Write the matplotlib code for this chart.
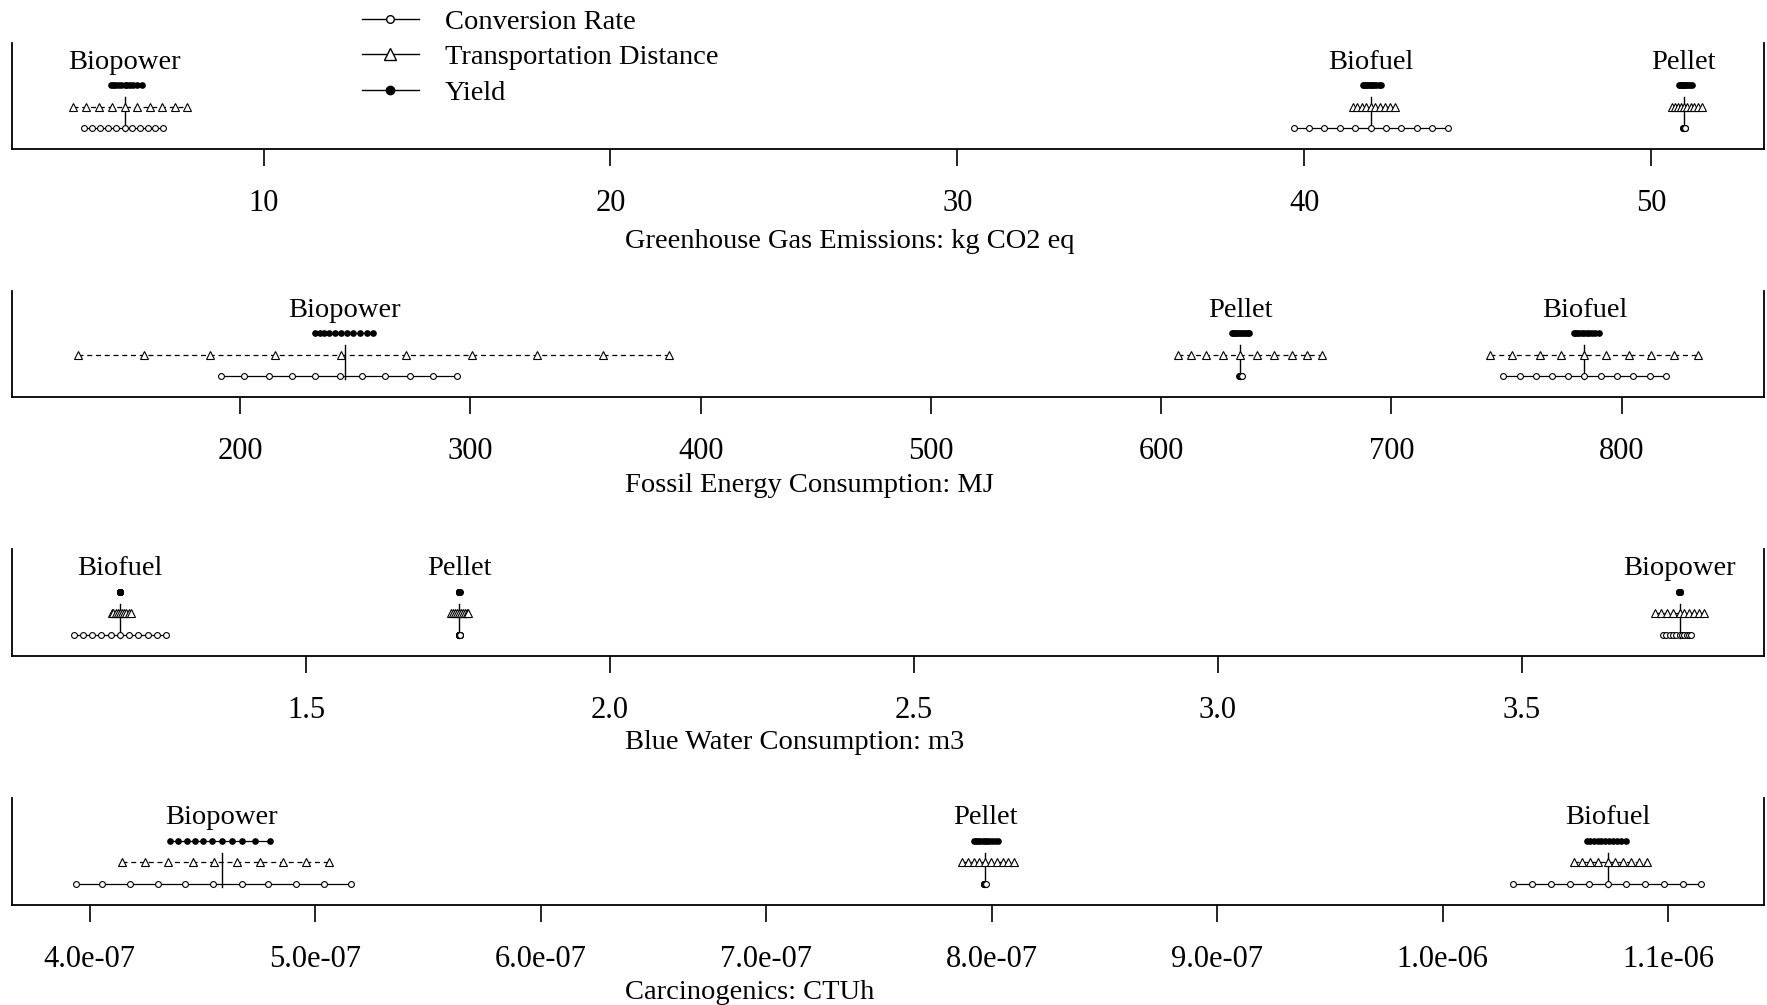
import matplotlib
matplotlib.use("Agg")
import matplotlib.pyplot as plt
from matplotlib.lines import Line2D

plt.rcParams['font.family'] = ['Liberation Serif', 'DejaVu Serif']

# ---------------- data ----------------
metric_labels = ["Greenhouse Gas Emissions: kg CO2 eq",
                 "Fossil Energy Consumption: MJ",
                 "Blue Water Consumption: m3",
                 "Carcinogenics: CTUh"]

xlims = [(2.75, 53.25), (100.9, 861.8), (1.016, 3.899), (3.655e-7, 1.1425e-6)]
tick_values = [[10, 20, 30, 40, 50],
               [200, 300, 400, 500, 600, 700, 800],
               [1.5, 2.0, 2.5, 3.0, 3.5],
               [4e-7, 5e-7, 6e-7, 7e-7, 8e-7, 9e-7, 1.0e-6, 1.1e-6]]
tick_labels = [["10", "20", "30", "40", "50"],
               ["200", "300", "400", "500", "600", "700", "800"],
               ["1.5", "2.0", "2.5", "3.0", "3.5"],
               ["4.0e-07", "5.0e-07", "6.0e-07", "7.0e-07", "8.0e-07",
                "9.0e-07", "1.0e-06", "1.1e-06"]]

# ---- Panel 1: GHG ----
ghg_pathways = ["Biopower", "Biofuel", "Pellet"]
ghg_base = [6.0, 41.91, 50.94]
ghg_conv = [
    [4.82, 5.05, 5.28, 5.51, 5.74, 6.0, 6.22, 6.44, 6.66, 6.88, 7.10],
    [39.69, 40.13, 40.58, 41.02, 41.47, 41.91, 42.36, 42.80, 43.25, 43.69, 44.14],
    [50.92, 50.925, 50.93, 50.935, 50.94, 50.94, 50.945, 50.95, 50.955, 50.96, 50.965],
]
ghg_trans = [
    [4.50, 4.88, 5.25, 5.63, 6.0, 6.36, 6.72, 7.08, 7.44, 7.80],
    [41.40, 41.53, 41.65, 41.78, 41.91, 42.05, 42.19, 42.33, 42.47, 42.62],
    [50.60, 50.69, 50.77, 50.86, 50.94, 51.04, 51.14, 51.24, 51.34, 51.45],
]
ghg_yield = [
    [5.60, 5.66, 5.73, 5.80, 5.89, 6.0, 6.07, 6.15, 6.25, 6.36, 6.49],
    [41.70, 41.73, 41.77, 41.81, 41.86, 41.91, 41.96, 42.01, 42.07, 42.14, 42.22],
    [50.81, 50.83, 50.85, 50.88, 50.91, 50.94, 50.97, 51.01, 51.06, 51.11, 51.17],
]

# ---- Panel 2: Fossil energy ----
fossil_pathways = ["Biopower", "Pellet", "Biofuel"]
fossil_base = [245.4, 634.4, 783.8]
fossil_conv = [
    [191.7, 201.7, 212.5, 222.6, 232.7, 243.5, 252.9, 263.0, 273.8, 283.9, 294.0],
    [634.0, 634.1, 634.2, 634.3, 634.4, 634.4, 634.5, 634.6, 634.7, 634.8, 634.9],
    [748.6, 755.7, 762.7, 769.8, 776.8, 783.8, 790.9, 797.9, 805.0, 812.1, 819.2],
]
fossil_trans = [
    [129.7, 158.2, 186.7, 215.2, 243.6, 272.1, 300.6, 329.1, 357.6, 386.1],
    [607.5, 613.0, 619.5, 626.9, 634.4, 641.8, 649.2, 656.7, 663.2, 669.7],
    [743.0, 752.3, 764.4, 773.6, 783.8, 793.1, 803.3, 812.6, 822.8, 833.0],
]
fossil_yield = [
    [232.7, 234.5, 236.5, 238.6, 241.0, 243.6, 246.3, 249.2, 251.9, 254.9, 257.9],
    [630.6, 631.2, 631.9, 632.7, 633.5, 634.4, 635.2, 636.0, 636.8, 637.5, 638.1],
    [779.2, 779.9, 780.7, 781.6, 782.6, 783.8, 784.8, 785.9, 787.1, 788.6, 790.3],
]

# ---- Panel 3: Blue water ----
water_pathways = ["Biofuel", "Pellet", "Biopower"]
water_base = [1.194, 1.752, 3.760]
water_conv = [
    [1.118, 1.133, 1.148, 1.163, 1.179, 1.194, 1.209, 1.224, 1.239, 1.255, 1.270],
    [1.751, 1.7512, 1.7514, 1.7516, 1.7518, 1.752, 1.7522, 1.7524, 1.7526, 1.7528, 1.753],
    [3.733, 3.738, 3.744, 3.749, 3.755, 3.760, 3.764, 3.768, 3.772, 3.776, 3.779],
]
water_trans = [
    [1.180, 1.183, 1.187, 1.190, 1.194, 1.197, 1.201, 1.204, 1.208, 1.211],
    [1.739, 1.742, 1.745, 1.749, 1.752, 1.755, 1.758, 1.761, 1.764, 1.767],
    [3.720, 3.730, 3.740, 3.750, 3.760, 3.768, 3.776, 3.784, 3.792, 3.800],
]
water_yield = [
    [1.1935, 1.1936, 1.1937, 1.1938, 1.1939, 1.194, 1.1941, 1.1942, 1.1943, 1.1944, 1.1945],
    [1.7515, 1.7516, 1.7517, 1.7518, 1.7519, 1.752, 1.7521, 1.7522, 1.7523, 1.7524, 1.7525],
    [3.7595, 3.7596, 3.7597, 3.7598, 3.7599, 3.760, 3.7601, 3.7602, 3.7603, 3.7604, 3.7605],
]

# ---- Panel 4: Carcinogenics ----
carc_pathways = ["Biopower", "Pellet", "Biofuel"]
carc_base = [4.585e-7, 7.97e-7, 10.731e-7]
carc_conv = [
    [3.941e-7, 4.056e-7, 4.178e-7, 4.304e-7, 4.422e-7, 4.548e-7, 4.674e-7, 4.792e-7, 4.916e-7, 5.037e-7, 5.160e-7],
    [7.966e-7, 7.9665e-7, 7.967e-7, 7.9675e-7, 7.968e-7, 7.97e-7, 7.9705e-7, 7.971e-7, 7.9715e-7, 7.972e-7, 7.9725e-7],
    [10.314e-7, 10.397e-7, 10.481e-7, 10.564e-7, 10.648e-7, 10.731e-7, 10.814e-7, 10.898e-7, 10.981e-7, 11.064e-7, 11.147e-7],
]
carc_trans = [
    [4.141e-7, 4.244e-7, 4.348e-7, 4.456e-7, 4.551e-7, 4.655e-7, 4.756e-7, 4.859e-7, 4.960e-7, 5.059e-7],
    [7.87e-7, 7.895e-7, 7.92e-7, 7.945e-7, 7.97e-7, 7.996e-7, 8.022e-7, 8.048e-7, 8.074e-7, 8.10e-7],
    [10.584e-7, 10.619e-7, 10.654e-7, 10.691e-7, 10.731e-7, 10.766e-7, 10.801e-7, 10.836e-7, 10.871e-7, 10.905e-7],
]
carc_yield = [
    [4.356e-7, 4.392e-7, 4.430e-7, 4.467e-7, 4.503e-7, 4.541e-7, 4.585e-7, 4.630e-7, 4.674e-7, 4.733e-7, 4.800e-7],
    [7.92e-7, 7.93e-7, 7.94e-7, 7.95e-7, 7.96e-7, 7.97e-7, 7.98e-7, 7.99e-7, 8.0e-7, 8.015e-7, 8.03e-7],
    [10.640e-7, 10.655e-7, 10.671e-7, 10.687e-7, 10.704e-7, 10.721e-7, 10.737e-7, 10.755e-7, 10.773e-7, 10.792e-7, 10.812e-7],
]

legend_labels = ["Conversion Rate", "Transportation Distance", "Yield"]

panels = [
    (ghg_pathways, ghg_base, ghg_conv, ghg_trans, ghg_yield),
    (fossil_pathways, fossil_base, fossil_conv, fossil_trans, fossil_yield),
    (water_pathways, water_base, water_conv, water_trans, water_yield),
    (carc_pathways, carc_base, carc_conv, carc_trans, carc_yield),
]

# ---------------- layout ----------------
W, H = 1767, 1005
fig = plt.figure(figsize=(W / 100, H / 100), dpi=100)
fig.patch.set_facecolor("white")

# (top_px, bottom_px, xlabel_center_px)
rows_px = [(43, 149, 242), (291, 397, 485), (549, 656, 742), (798, 905, 992)]
left_px, right_px = 12, 1764
FS = 20.5
TFS = 22

Y_CONV, Y_TRANS, Y_YIELD, Y_LABEL = 1.0, 2.0, 3.0, 4.1

for i, (pw, base, conv, trans, yld) in enumerate(panels):
    top, bot, xl = rows_px[i]
    ax = fig.add_axes([left_px / W, 1 - bot / H, (right_px - left_px) / W, (bot - top) / H])
    ax.set_xlim(*xlims[i])
    ax.set_ylim(0, 5)
    for s in ["left", "bottom", "right"]:
        ax.spines[s].set_linewidth(1.3)
    ax.spines["top"].set_visible(False)
    ax.set_yticks([])
    ax.set_xticks(tick_values[i])
    ax.set_xticklabels(tick_labels[i])
    ax.tick_params(axis="x", direction="out", length=12, width=1.2, pad=17, labelsize=TFS)

    for j in range(3):
        ax.plot([base[j], base[j]], [0.85, 2.45], color="black", lw=1.0, zorder=1)
        ax.plot(conv[j], [Y_CONV] * len(conv[j]), color="black", lw=0.9, ls="-",
                marker="o", ms=4.2, mfc="white", mec="black", mew=0.8, zorder=3)
        ax.plot(trans[j], [Y_TRANS] * len(trans[j]), color="black", lw=0.9, ls=(0, (4, 3)),
                marker="^", ms=6.2, mfc="white", mec="black", mew=0.8, zorder=3)
        ax.plot(yld[j], [Y_YIELD] * len(yld[j]), color="black", lw=0.9, ls="-",
                marker="o", ms=3.8, mfc="black", mec="black", zorder=3)
        ax.text(base[j], Y_LABEL, pw[j], ha="center", va="center", fontsize=FS)

    fig.text(625 / W, 1 - xl / H, metric_labels[i], ha="left", va="center", fontsize=FS)

handles = [
    Line2D([], [], color="black", lw=1.0, marker="o", ms=5.5, mfc="white", mec="black"),
    Line2D([], [], color="black", lw=1.0, marker="^", ms=8.5, mfc="white", mec="black"),
    Line2D([], [], color="black", lw=1.0, marker="o", ms=6, mfc="black", mec="black"),
]
fig.legend(handles, legend_labels, loc="upper left", bbox_to_anchor=(362 / W, 1 - 9 / H),
           frameon=False, fontsize=FS, handlelength=2.0, handletextpad=0.9,
           labelspacing=0.33, borderpad=0, borderaxespad=0)

fig.savefig("out.png", dpi=100, facecolor="white")
